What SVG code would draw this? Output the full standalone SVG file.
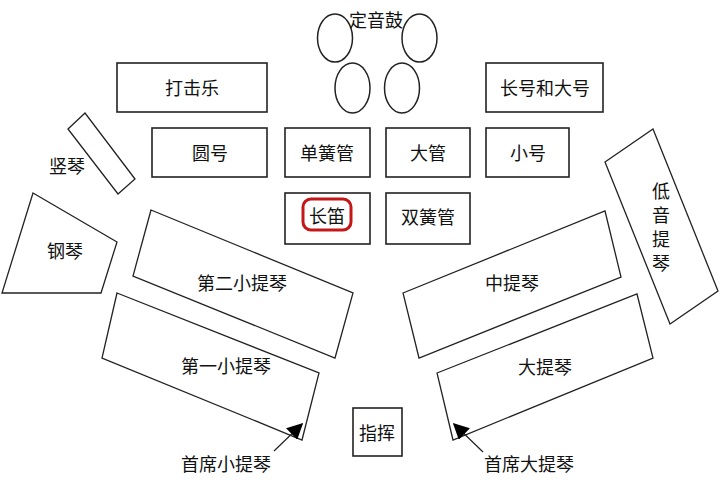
<svg xmlns="http://www.w3.org/2000/svg" width="720" height="480" viewBox="0 0 720 480">
<defs>
<marker id="ah" viewBox="0 0 10 10" refX="9" refY="5" markerWidth="16" markerHeight="16" markerUnits="userSpaceOnUse" orient="auto">
<path d="M0,0 L10,5 L0,10 z" fill="#000"/>
</marker>
<style>
.box{fill:#fff;stroke:#222;stroke-width:1.6}
.poly{fill:#fff;stroke:#222;stroke-width:1.3}
.drum{fill:none;stroke:#222;stroke-width:1.5}
text{font-family:"Noto Sans CJK SC","Noto Sans CJK JP",sans-serif;font-size:18px;fill:#111;text-anchor:middle;dominant-baseline:central}
.conn{stroke:#222;stroke-width:1.2;fill:none}
</style>
</defs>
<rect width="720" height="480" fill="#fff"/>

<g id="timpani">
<ellipse class="drum" cx="335" cy="38" rx="17.5" ry="24"/>
<ellipse class="drum" cx="419.5" cy="38" rx="17.5" ry="24"/>
<ellipse class="drum" cx="352.5" cy="88" rx="17.5" ry="25"/>
<ellipse class="drum" cx="402" cy="88" rx="17.5" ry="25"/>
<text x="376" y="19">定音鼓</text>
</g>

<g id="percussion"><rect class="box" x="117" y="63" width="150" height="49"/><text x="192" y="87">打击乐</text></g>
<g id="horn"><rect class="box" x="152" y="128" width="115" height="49"/><text x="210" y="152">圆号</text></g>
<g id="clarinet"><rect class="box" x="285" y="128" width="85" height="49"/><text x="327" y="152">单簧管</text></g>
<g id="bassoon"><rect class="box" x="386" y="128" width="84" height="49"/><text x="428" y="152">大管</text></g>
<g id="flute"><rect class="box" x="285" y="193" width="85" height="51"/><rect x="303" y="199" width="48" height="31" rx="8" fill="none" stroke="#c41818" stroke-width="3"/><text x="327" y="215">长笛</text></g>
<g id="oboe"><rect class="box" x="386" y="193" width="84" height="51"/><text x="428" y="216">双簧管</text></g>
<g id="trombone-tuba"><rect class="box" x="486" y="63" width="117" height="49"/><text x="545" y="87">长号和大号</text></g>
<g id="trumpet"><rect class="box" x="486" y="128" width="83" height="49"/><text x="528" y="152">小号</text></g>

<g id="harp"><polygon class="poly" points="68,129 85,113 135,179 118,194"/><text x="67" y="165">竖琴</text></g>
<g id="piano"><polygon class="poly" points="33,193 117,242 101,293 2,293"/><text x="65" y="250">钢琴</text></g>

<g id="violin2"><polygon class="poly" points="151,210 353,293 335,358 133,276"/><text x="242" y="282">第二小提琴</text></g>
<g id="violin1"><polygon class="poly" points="117,293 319,373 302,440 102,358"/><text x="226" y="365">第一小提琴</text></g>

<g id="viola"><polygon class="poly" points="403,293 605,211 621,277 419,358"/><text x="512" y="282">中提琴</text></g>
<g id="cello"><polygon class="poly" points="437,373 637,294 653,358 453,440"/><text x="545" y="366">大提琴</text></g>
<g id="contrabass"><polygon class="poly" points="605,162 653,129 718,291 670,324"/>
<text x="661" y="190">低</text><text x="661" y="214">音</text><text x="661" y="238">提</text><text x="661" y="262">琴</text></g>

<g id="conductor"><rect class="box" x="353" y="408" width="49" height="48"/><text x="377" y="432">指挥</text></g>

<g id="label-vn1"><text x="226" y="463">首席小提琴</text></g>
<g id="label-vc1"><text x="529" y="463">首席大提琴</text></g>

<g id="connectors">
<line class="conn" x1="274" y1="451" x2="302" y2="424" marker-end="url(#ah)"/>
<line class="conn" x1="483" y1="452" x2="454" y2="424" marker-end="url(#ah)"/>
</g>
</svg>
